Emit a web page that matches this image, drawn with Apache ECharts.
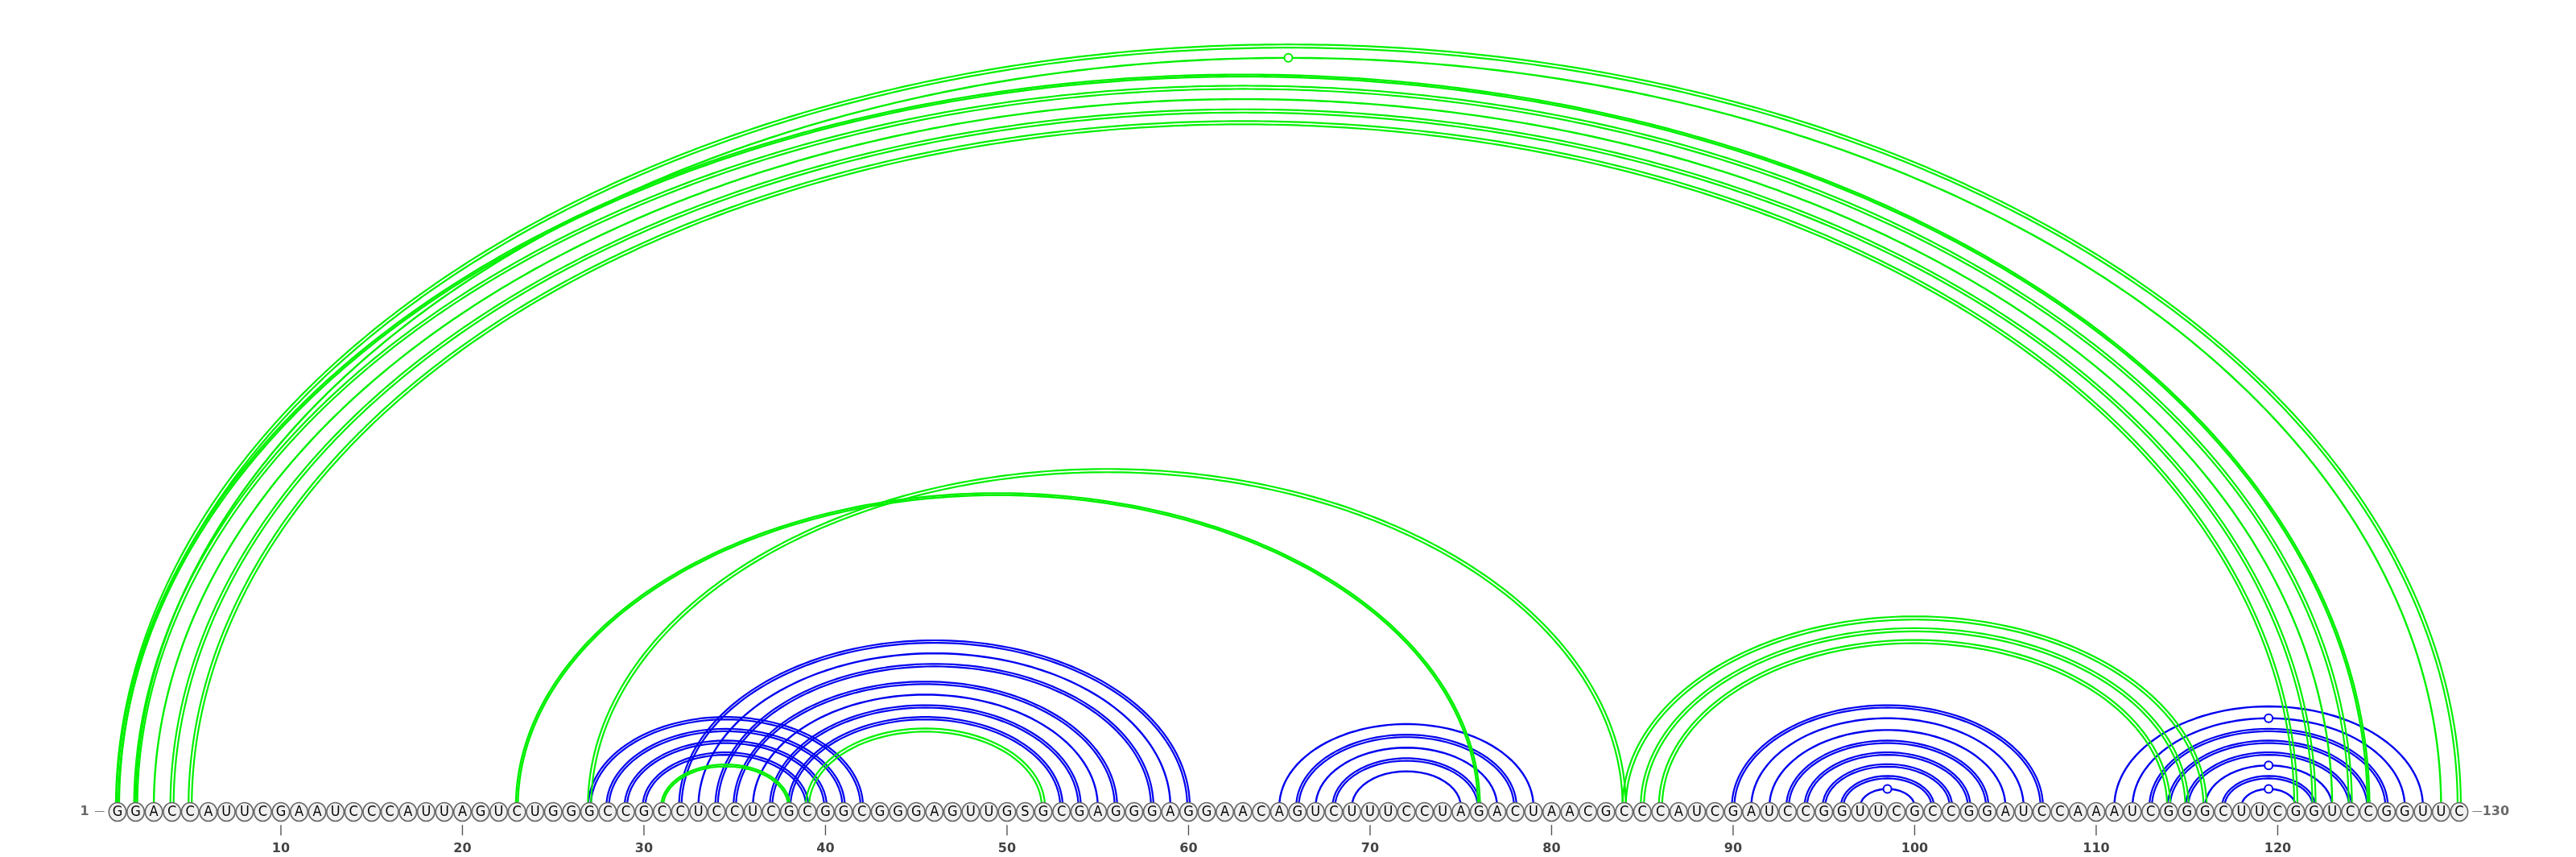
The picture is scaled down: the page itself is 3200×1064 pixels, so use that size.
<!DOCTYPE html>
<html>
<head>
<meta charset="utf-8">
<title>RNA arc diagram</title>
<script src="https://cdn.jsdelivr.net/npm/echarts@6/dist/echarts.min.js"></script>
<style>
  html, body { margin: 0; padding: 0; background: #fff; }
  #container { width: 3200px; height: 1064px; }
</style>
</head>
<body>
<div id="container"></div>
<script>
// sequence, one letter per position (1..130)
var sequence = (
    'GGACCAUUCG' + 'AAUCCCAUUA' + 'GUCUGGGCCG' + 'CCUCCUCGCG' + 'GCGGGAGUUG' +
    'SGCGAGGGAG' + 'GAACAGUCUU' + 'UCCUAGACUA' + 'ACGCCCAUCG' + 'AUCCGGUUCG' +
    'CCGGAUCCAA' + 'AUCGGGCUUC' + 'GGUCCGGUUC'
).split('');

var tickLabels = [10, 20, 30, 40, 50, 60, 70, 80, 90, 100, 110, 120];

// base pairs [i, j], grouped by how the arc is stroked
var blueSingle = [[33, 59], [36, 55], [65, 79], [67, 77], [69, 75], [91, 106], [92, 105],
    [97, 100], [111, 128], [112, 127], [116, 123], [118, 121]];
var blueDouble = [[27, 42], [28, 41], [29, 40], [30, 39], [32, 60], [34, 58], [35, 56],
    [37, 54], [38, 53], [66, 78], [68, 76], [90, 107], [93, 104], [94, 103], [95, 102],
    [96, 101], [113, 126], [114, 125], [115, 124], [117, 122]];
var greenThick = [[1, 125], [23, 76], [31, 38]];
var greenDouble = [[1, 130], [2, 124], [4, 122], [5, 121], [27, 84], [39, 52],
    [84, 116], [85, 115], [86, 114]];
var greenSingle = [[2, 129], [3, 123]];

var BLUE = '#0000f0';
var GREEN = '#00f000';
var ARC_LIFT = 6.5;        // arcs start a little above the base centre
var PX_PER_NT = 22.55;     // x spacing
var PX_PER_SPAN = 7.32;    // arc height per nucleotide of span
var ROW_Y = 1008;          // pixel row of the bases
var X_MIN = 0, X_MAX = 131, Y_MIN = -2, Y_MAX = 135;

function isWobble(i, j) {
    var p = sequence[i - 1] + sequence[j - 1];
    return p == 'GU' || p == 'UG';
}

function ellipsePoints(cx, by, rx, ry) {
    var n = Math.max(24, Math.ceil(rx / 3));
    var pts = [];
    for (var k = 0; k <= n; k++) {
        var t = Math.PI * k / n;
        pts.push([cx - rx * Math.cos(t), by - ry * Math.sin(t)]);
    }
    return pts;
}

function makeArcRenderer(color, gap, width) {
    return function (params, api) {
        var i = api.value(0);
        var j = api.value(1);
        var p1 = api.coord([i, 0]);
        var p2 = api.coord([j, 0]);
        var apex = api.coord([(i + j) / 2, j - i]);
        var cx = (p1[0] + p2[0]) / 2;
        var baseY = p1[1] - ARC_LIFT;
        var rx = (p2[0] - p1[0]) / 2;
        var ry = p1[1] - apex[1];
        var offsets = gap > 0 ? [-gap / 2, gap / 2] : [0];
        var children = offsets.map(function (o) {
            return {
                type: 'polyline',
                shape: { points: ellipsePoints(cx, baseY, rx + o, ry + o) },
                style: { stroke: color, lineWidth: width, fill: null, lineJoin: 'round' }
            };
        });
        // G-U pairs get a small ring on the top of the arc
        if (isWobble(i, j)) {
            children.push({
                type: 'circle',
                shape: { cx: cx, cy: baseY - ry, r: 5 },
                style: { fill: '#fff', stroke: color, lineWidth: 2 }
            });
        }
        return { type: 'group', children: children };
    };
}

function arcSeries(name, pairs, color, gap, width) {
    return {
        name: name,
        type: 'custom',
        renderItem: makeArcRenderer(color, gap, width),
        data: pairs,
        encode: { x: [0, 1] },
        silent: true,
        z: 2
    };
}

/** short tick under every tenth base */
function renderTick(params, api) {
    var p = api.coord([api.value(0), Y_MIN]);
    return {
        type: 'line',
        shape: { x1: p[0], y1: p[1] + 1.5, x2: p[0], y2: p[1] + 14.5 },
        style: { stroke: '#555', lineWidth: 1.4 }
    };
}

var baseData = sequence.map(function (b, k) {
    return [k + 1, 0, b];
});

var gridLeft = 146 - PX_PER_NT * (1 - X_MIN);
var gridTop = ROW_Y - Y_MAX * PX_PER_SPAN;

var labelFont = { color: '#444', fontFamily: 'DejaVu Sans', fontWeight: 'bold', fontSize: 16 };

var option = {
    animation: false,
    backgroundColor: '#ffffff',
    grid: {
        left: gridLeft,
        top: gridTop,
        width: (X_MAX - X_MIN) * PX_PER_NT,
        height: (Y_MAX - Y_MIN) * PX_PER_SPAN
    },
    xAxis: {
        type: 'value',
        min: X_MIN,
        max: X_MAX,
        axisLine: { show: false },
        splitLine: { show: false },
        axisTick: { show: false },
        axisLabel: {
            customValues: tickLabels,
            margin: 23,
            color: labelFont.color,
            fontFamily: labelFont.fontFamily,
            fontWeight: labelFont.fontWeight,
            fontSize: labelFont.fontSize
        }
    },
    yAxis: {
        type: 'value',
        min: Y_MIN,
        max: Y_MAX,
        show: false
    },
    series: [
        arcSeries('blue single', blueSingle, BLUE, 0, 2.4),
        arcSeries('blue double', blueDouble, BLUE, 3.1, 2.2),
        arcSeries('green thick', greenThick, GREEN, 2.4, 2.4),
        arcSeries('green double', greenDouble, GREEN, 4.0, 2.2),
        arcSeries('green single', greenSingle, GREEN, 0, 2.4),
        {
            name: 'ticks',
            type: 'custom',
            renderItem: renderTick,
            data: tickLabels.map(function (v) { return [v, Y_MIN]; }),
            silent: true,
            z: 3
        },
        {
            name: 'bases',
            type: 'scatter',
            data: baseData,
            symbol: 'circle',
            symbolSize: [21.5, 23],
            z: 5,
            silent: true,
            itemStyle: { color: '#f0f0f0', borderColor: '#666', borderWidth: 1.6, opacity: 1 },
            label: {
                show: true,
                position: 'inside',
                formatter: function (p) { return p.value[2]; },
                color: '#000',
                fontSize: 18,
                fontFamily: "'Liberation Sans Narrow', 'DejaVu Sans Condensed', 'Liberation Sans'"
            }
        },
        {
            name: 'ends',
            type: 'scatter',
            symbol: 'circle',
            symbolSize: [21.5, 23],
            z: 5,
            silent: true,
            itemStyle: { color: 'rgba(0,0,0,0)' },
            data: [
                { value: [1, 0], label: { position: 'left', formatter: '{n|1}  {d|—}' } },
                { value: [sequence.length, 0], label: { position: 'right', formatter: '{d|—}{n|' + sequence.length + '}' } }
            ],
            label: {
                show: true,
                distance: 5,
                rich: {
                    n: labelFont,
                    d: { color: '#444', fontFamily: 'DejaVu Sans', fontSize: 13 }
                }
            }
        }
    ]
};

var myChart = echarts.init(document.getElementById('container'));
myChart.setOption(option);
</script>
</body>
</html>
